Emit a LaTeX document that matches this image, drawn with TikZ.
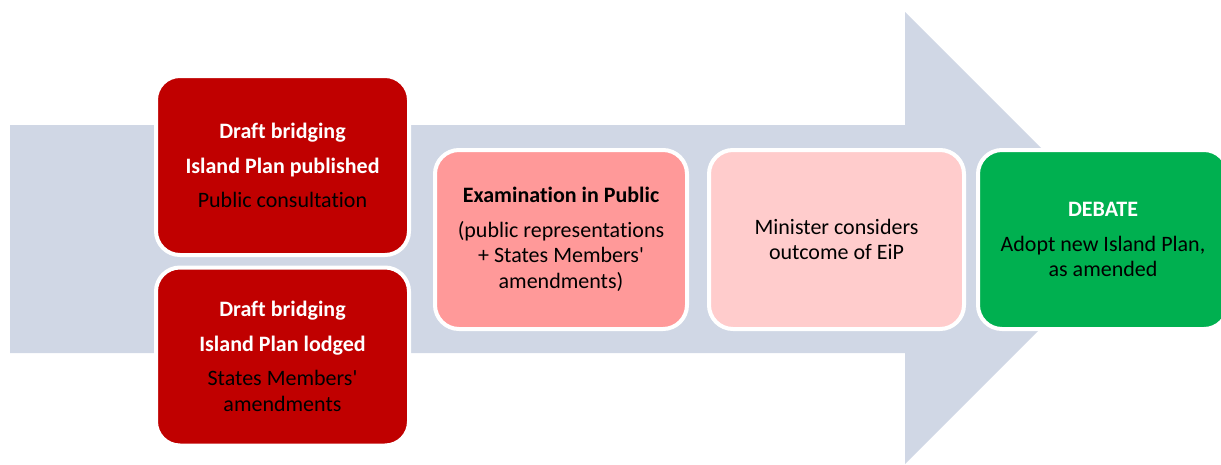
\documentclass[tikz,border=0pt]{standalone}
\usepackage{fontspec}
\setmainfont{Carlito}[Ligatures={TeXOff,NoCommon}]
\usetikzlibrary{positioning}
\definecolor{arrowgrey}{HTML}{D0D7E5}
\definecolor{planred}{HTML}{C00000}
\definecolor{eipred}{HTML}{FF9999}
\definecolor{eippink}{HTML}{FFCCCC}
\definecolor{debategreen}{HTML}{00B050}
\tikzset{
    stagebox/.style={draw=white, line width=4pt, rounded corners=24pt,
        align=center, inner sep=0pt,
        font=\fontsize{22}{25.5}\selectfont},
    headtext/.style={font=\bfseries}
}
\begin{document}
\begin{tikzpicture}[x=1pt,y=-1pt]
    \useasboundingbox (0,0) rectangle (1221,464);
    \fill[arrowgrey] (10,125) -- (905,125) -- (905,12) -- (1131,238)
        -- (905,464) -- (905,353) -- (10,353) -- cycle;
    \node [stagebox, fill=planred, minimum width=253pt, minimum height=179pt]
        (published) at (282.5,165.5)
        {\textcolor{white}{\bfseries Draft bridging}\\[9pt]
         \textcolor{white}{\bfseries Island Plan published}\\[9pt]
         Public consultation};
    \node [stagebox, fill=planred, minimum width=253pt, minimum height=178pt]
        (lodged) at (282.5,356.5)
        {\textcolor{white}{\bfseries Draft bridging}\\[9pt]
         \textcolor{white}{\bfseries Island Plan lodged}\\[9pt]
         States Members'\\amendments};
    \node [stagebox, fill=eipred, minimum width=252pt, minimum height=179pt]
        (eip) at (561,239.5)
        {\textbf{Examination in Public}\\[9pt]
         (public representations\\+ States Members'\\amendments)};
    \node [stagebox, fill=eippink, minimum width=255pt, minimum height=179pt]
        (minister) at (836.5,239.5)
        {Minister considers\\outcome of EiP};
    \node [stagebox, fill=debategreen, minimum width=250pt, minimum height=179pt]
        (debate) at (1103,239.5)
        {\textcolor{white}{\bfseries DEBATE}\\[9pt]
         Adopt new Island Plan,\\as amended};
\end{tikzpicture}
\end{document}
